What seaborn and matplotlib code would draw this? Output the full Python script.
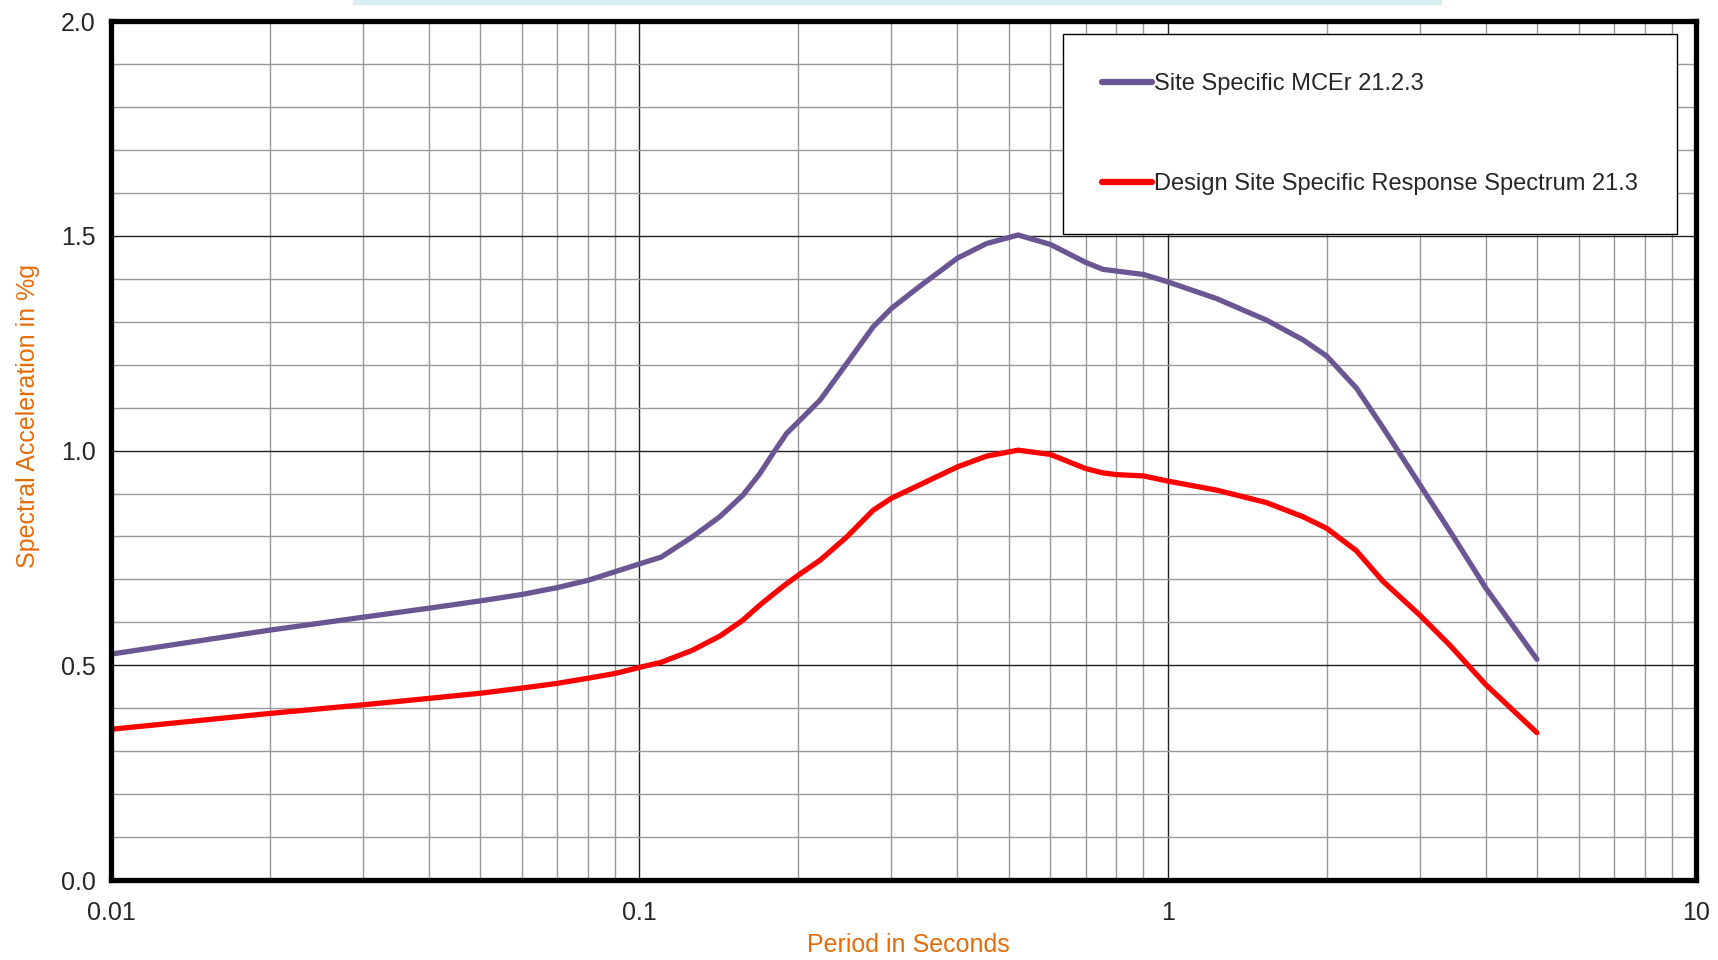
import numpy as np
import pandas as pd
import seaborn as sns
import matplotlib
matplotlib.use("Agg")
import matplotlib.pyplot as plt
from matplotlib.patches import Rectangle
from matplotlib.ticker import LogLocator, FixedLocator, FuncFormatter, MultipleLocator

# values
period = [0.01, 0.02, 0.03, 0.04, 0.05, 0.06, 0.07, 0.08, 0.09, 0.1,
          0.11, 0.126, 0.142, 0.157, 0.169, 0.179, 0.19, 0.2, 0.22, 0.247,
          0.277, 0.3, 0.339, 0.4, 0.454, 0.521, 0.6, 0.7, 0.754, 0.8,
          0.9, 1.0, 1.237, 1.537, 1.803, 2.0, 2.275, 2.554, 3.0, 3.419,
          4.0, 5.0]
mcer = [0.526, 0.582, 0.612, 0.633, 0.650, 0.665, 0.681, 0.698, 0.718, 0.736,
        0.752, 0.799, 0.846, 0.896, 0.946, 0.993, 1.040, 1.067, 1.118, 1.203,
        1.288, 1.331, 1.382, 1.448, 1.482, 1.502, 1.480, 1.438, 1.422, 1.418,
        1.410, 1.393, 1.354, 1.304, 1.258, 1.220, 1.146, 1.054, 0.921, 0.813,
        0.680, 0.514]
design = [0.351, 0.388, 0.408, 0.423, 0.435, 0.447, 0.458, 0.470, 0.481, 0.495,
          0.507, 0.535, 0.568, 0.605, 0.640, 0.665, 0.690, 0.710, 0.745, 0.799,
          0.861, 0.889, 0.920, 0.962, 0.987, 1.001, 0.991, 0.958, 0.948, 0.944,
          0.941, 0.929, 0.908, 0.879, 0.846, 0.819, 0.767, 0.696, 0.617, 0.547,
          0.455, 0.343]
series_names = ["Site Specific MCEr 21.2.3", "Design Site Specific Response Spectrum 21.3"]
x_ticks = [0.01, 0.1, 1, 10]
x_tick_labels = ["0.01", "0.1", "1", "10"]

sns.set_style("white")
plt.rcParams['font.family'] = ['Liberation Sans', 'DejaVu Sans']

df = pd.DataFrame({
    "period": period * 2,
    "sa": mcer + design,
    "series": [series_names[0]] * len(period) + [series_names[1]] * len(period),
})

fig = plt.figure(figsize=(17.18, 9.6), dpi=100)
ax = fig.add_axes([0.0646, 0.0833, 0.9226, 0.8947])

# faint strip at the very top of the original image
fig.patches.append(Rectangle((353 / 1718, 1 - 4 / 960), 1088 / 1718, 4 / 960,
                             transform=fig.transFigure, color="#DBEEF4", zorder=0))

sns.lineplot(data=df, x="period", y="sa", hue="series", estimator=None,
             palette={series_names[0]: "#6A5693", series_names[1]: "#FF0000"},
             linewidth=3.8, ax=ax, zorder=3)
for ln in ax.get_lines():
    ln.set_solid_capstyle("round")
    ln.set_solid_joinstyle("round")

ax.set_xscale("log")
ax.set_xlim(0.01, 10)
ax.set_ylim(0, 2.0)
ax.xaxis.set_major_locator(FixedLocator(x_ticks))
ax.xaxis.set_major_formatter(FuncFormatter(lambda v, p: x_tick_labels[x_ticks.index(v)] if v in x_ticks else ""))
ax.xaxis.set_minor_locator(LogLocator(base=10, subs=np.arange(2, 10)))
ax.xaxis.set_minor_formatter(FuncFormatter(lambda v, p: ""))
ax.yaxis.set_major_locator(MultipleLocator(0.5))
ax.yaxis.set_minor_locator(MultipleLocator(0.1))
ax.yaxis.set_major_formatter(FuncFormatter(lambda v, p: f"{v:.1f}"))

ax.grid(which="major", color="#202020", linewidth=1.0, zorder=1)
ax.grid(which="minor", color="#9A9A9A", linewidth=1.0, zorder=1)
ax.set_axisbelow(True)

ax.tick_params(axis="both", which="major", labelsize=18, length=6, width=1,
               color="#444444", direction="out", pad=5)
ax.tick_params(axis="both", which="minor", length=0)
ax.tick_params(axis="x", pad=9)

for s in ax.spines.values():
    s.set_visible(True)
    s.set_color("black")
    s.set_linewidth(3.8)
    s.set_zorder(5)

ax.set_xlabel("Period in Seconds", color="#E46C0A", fontsize=18)
ax.set_ylabel("Spectral Acceleration in %g", color="#E46C0A", fontsize=18)
ax.xaxis.set_label_coords(0.503, -0.062)
ax.yaxis.set_label_coords(-0.045, 0.54)

handles, labels = ax.get_legend_handles_labels()
leg = ax.legend(handles, labels, loc="upper right", bbox_to_anchor=(0.988, 0.985),
                borderaxespad=0, fontsize=17, frameon=True, fancybox=False,
                framealpha=1, edgecolor="black", borderpad=1.65, labelspacing=3.3,
                handlelength=2.1, handletextpad=0.1)
leg.get_frame().set_linewidth(1.0)
leg.set_zorder(6)
for h in leg.get_lines():
    h.set_linewidth(4.5)
    h.set_solid_capstyle("round")

fig.savefig("out.png", dpi=100)
